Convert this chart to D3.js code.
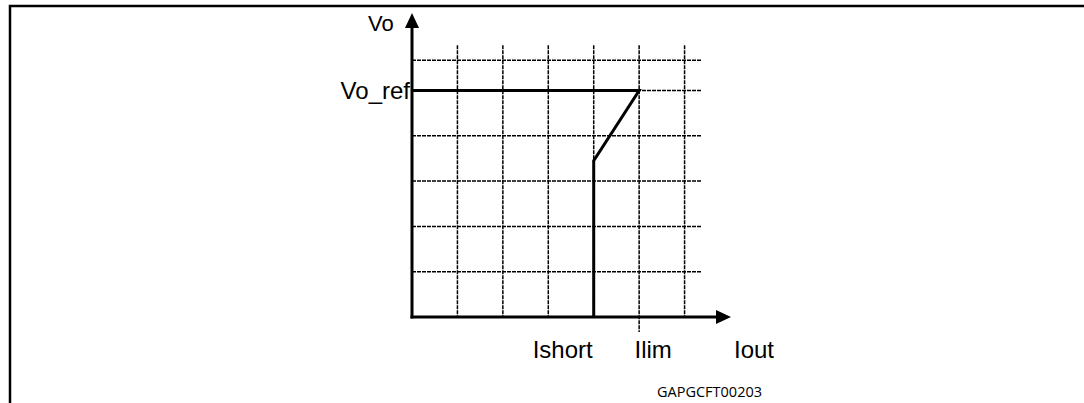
<!DOCTYPE html>
<html>
<head>
<meta charset="utf-8">
<script src="https://cdn.jsdelivr.net/npm/d3@7"></script>
<style>
  html, body { margin: 0; padding: 0; background: #fff; }
  svg { display: block; }
</style>
</head>
<body>
<script>
// chart values (grid units)
const curveI = [0, 5, 4, 4];          // Iout along the limiting curve
const curveV = [5, 5, 3.45, 0];       // Vo along the limiting curve
const gridI = [1, 2, 3, 4, 5, 6];     // vertical dotted lines
const gridV = [1, 2, 3, 4, 5, 5.67];  // horizontal dotted lines
const xLabels = ["Ishort", "Ilim", "Iout"];
const xLabelAt = [4, 5, 7];
const yLabels = ["Vo_ref"];
const yLabelAt = [5];
const figCode = "GAPGCFT00203";

const W = 1084, H = 403;
const svg = d3.select("body").append("svg")
    .attr("width", W)
    .attr("height", H);

// frame (top and left edges only)
svg.append("path")
    .attr("d", `M10,${H} V6 H${W}`)
    .attr("fill", "none")
    .attr("stroke", "#000")
    .attr("stroke-width", 2.5);

const x = d3.scaleLinear().domain([0, 7]).range([412, 730]);
const y = d3.scaleLinear().domain([0, 1]).range([317, 317 - 45.3]);

// dotted grid
svg.append("g").selectAll("line").data(gridI).join("line")
    .attr("x1", d => x(d)).attr("x2", d => x(d))
    .attr("y1", y(6)).attr("y2", d => d === 5 ? y(0) + 15 : y(0))
    .attr("stroke", "#000").attr("stroke-width", 1.5)
    .attr("stroke-dasharray", "4 1");

svg.append("g").selectAll("line").data(gridV).join("line")
    .attr("x1", x(0)).attr("x2", x(6.37))
    .attr("y1", d => y(d)).attr("y2", d => y(d))
    .attr("stroke", "#000").attr("stroke-width", 1.5)
    .attr("stroke-dasharray", "4 1");

// axes with arrow heads
svg.append("line")
    .attr("x1", x(0)).attr("x2", x(0))
    .attr("y1", y(0) + 1.5).attr("y2", 24)
    .attr("stroke", "#000").attr("stroke-width", 3);
svg.append("path")
    .attr("d", `M${x(0)},13 L${x(0) - 7},28 L${x(0) + 7},28 Z`)
    .attr("fill", "#000");

svg.append("line")
    .attr("x1", x(0) - 1.5).attr("x2", 720)
    .attr("y1", y(0)).attr("y2", y(0))
    .attr("stroke", "#000").attr("stroke-width", 3);
svg.append("path")
    .attr("d", `M731,${y(0)} L716,${y(0) - 7} L716,${y(0) + 7} Z`)
    .attr("fill", "#000");

// limiting curve
const line = d3.line().x(d => x(d[0])).y(d => y(d[1]));
svg.append("path")
    .datum(d3.zip(curveI, curveV))
    .attr("d", line)
    .attr("fill", "none")
    .attr("stroke", "#000")
    .attr("stroke-width", 3)
    .attr("stroke-linejoin", "miter");

// labels
const font = "'Liberation Sans', Arial, sans-serif";
svg.append("text")
    .attr("x", 368).attr("y", 31)
    .attr("font-family", font).attr("font-size", 22)
    .text("Vo");

svg.selectAll("text.ylab").data(yLabels).join("text")
    .attr("class", "ylab")
    .attr("x", x(0) - 2).attr("y", (d, i) => y(yLabelAt[i]) + 8)
    .attr("text-anchor", "end")
    .attr("font-family", font).attr("font-size", 24)
    .text(d => d);

const labelDx = [-31, 14, 24];
svg.selectAll("text.xlab").data(xLabels).join("text")
    .attr("class", "xlab")
    .attr("x", (d, i) => x(xLabelAt[i]) + labelDx[i]).attr("y", 358)
    .attr("text-anchor", "middle")
    .attr("font-family", font).attr("font-size", 24)
    .text(d => d);

svg.append("text")
    .attr("x", 657).attr("y", 397)
    .attr("font-family", "'Open Sans', 'Noto Sans', sans-serif")
    .attr("font-size", 14.5)
    .text(figCode);
</script>
</body>
</html>
